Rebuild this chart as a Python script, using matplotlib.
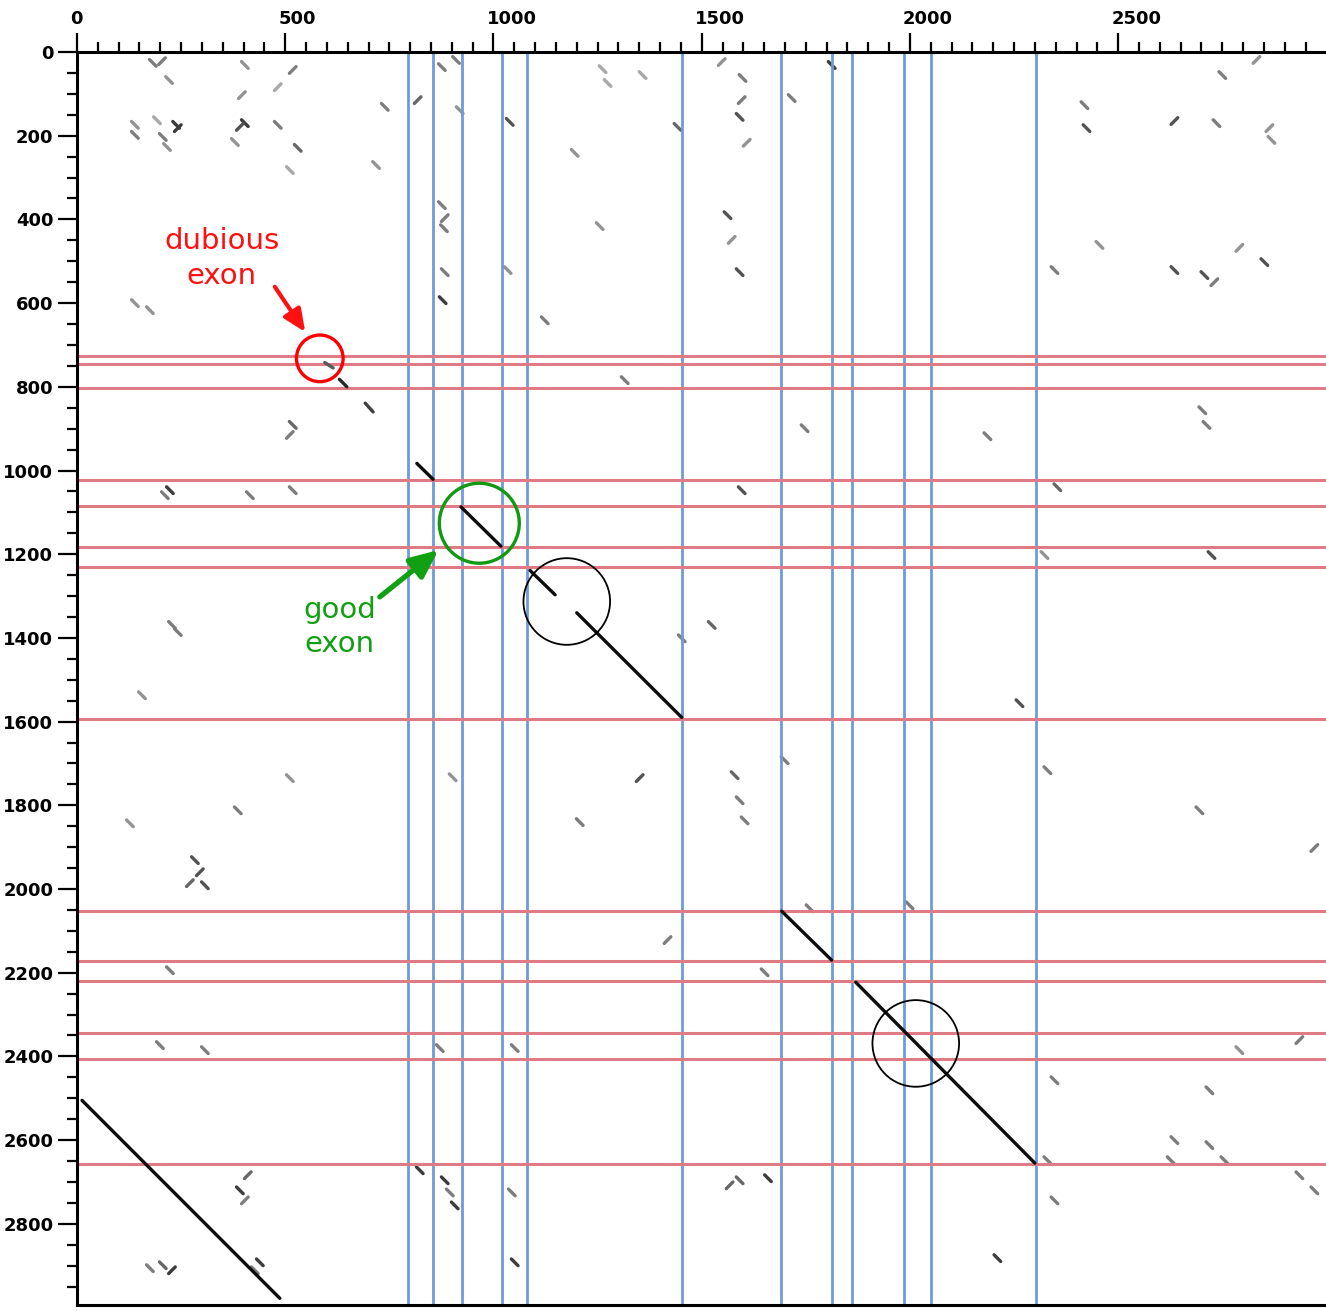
import matplotlib
matplotlib.use("Agg")
import matplotlib.pyplot as plt
import numpy as np
from matplotlib.collections import LineCollection
from matplotlib.patches import Ellipse
from matplotlib.transforms import ScaledTranslation

# ---------------- data ----------------
x_max = 2999
y_max = 2994
x_ticks = [0, 500, 1000, 1500, 2000, 2500]
y_ticks = [0, 200, 400, 600, 800, 1000, 1200, 1400, 1600, 1800, 2000, 2200, 2400, 2600, 2800]

# exon boundaries (blue vertical / red horizontal)
exon_x = [794, 855, 924, 1020, 1080, 1452, 1690, 1813, 1861, 1986, 2050, 2302]
exon_y = [726, 746, 804, 1022, 1086, 1182, 1230, 1594, 2053, 2172, 2220, 2345, 2407, 2658]

# main diagonal alignment segments: x0, y0, x1, y1
diag_x0 = [12, 595, 630, 692, 816, 922, 1088, 1200, 1692, 1870]
diag_y0 = [2505, 742, 782, 839, 983, 1087, 1239, 1340, 2053, 2223]
diag_x1 = [487, 615, 648, 711, 855, 1018, 1148, 1452, 1812, 2300]
diag_y1 = [2978, 755, 800, 860, 1021, 1181, 1297, 1590, 2170, 2655]
diag_gray = [0.05, 0.35, 0.15, 0.25, 0.05, 0.05, 0.05, 0.05, 0.05, 0.05]

# background noise dashes: centre x, centre y, darkness (0 light .. 1 dark), direction (+1 diagonal, -1 anti)
noise_x = [182, 204, 221, 139, 139, 192, 206, 238, 242, 216, 403, 396, 482, 518, 403, 391, 379, 482, 530,
           739, 818, 876, 910, 919, 1039, 1262, 1274, 1358, 1442, 1548, 1598, 1596, 1591, 1716, 1812, 1608,
           1195, 2424, 2419, 2832, 2750, 2736, 2635, 2863, 2868, 511, 718, 876, 883, 881, 878, 883, 1255,
           1562, 1591, 1572, 2455, 2635, 2707, 2731, 2851, 2347, 139, 175, 1123, 1034, 2791, 518, 511, 1315,
           1747, 2186, 2702, 2712, 223, 211, 415, 518, 2354, 1596, 1524, 1452, 228, 242, 156, 2263, 1351, 902,
           1579, 1591, 1603, 1699, 1207, 2330, 2695, 2971, 283, 295, 271, 307, 127, 386, 511, 1759, 1999,
           1418, 223, 1651, 199, 871, 1051, 2791, 907, 2210, 2347, 391, 403, 410, 823, 883, 895, 1044, 1051,
           1591, 1659, 1567, 206, 228, 175, 2719, 2755, 2935, 2971, 439, 427, 2719, 2330, 2347, 2635, 2935,
           2626, 307, 2724, 2323]
noise_y = [26, 22, 67, 174, 198, 163, 203, 174, 182, 227, 31, 103, 84, 43, 170, 179, 215, 174, 229,
           131, 115, 36, 19, 139, 167, 41, 74, 55, 179, 24, 62, 115, 155, 110, 31, 217,
           241, 182, 127, 19, 55, 170, 165, 182, 210, 282, 270, 366, 397, 421, 593, 526, 416,
           390, 526, 449, 461, 521, 533, 550, 502, 521, 600, 617, 641, 521, 468, 891, 915, 784,
           899, 918, 856, 891, 1047, 1059, 1059, 1047, 1040, 1047, 1369, 1401, 1369, 1386, 1537, 1556, 1735, 1733,
           1728, 1788, 1836, 1692, 1840, 1716, 1812, 1902, 1931, 1960, 1986, 1991, 1843, 1812, 1735, 2046, 2039,
           2122, 2194, 2199, 2373, 2380, 2380, 2385, 2756, 2882, 2744, 2720, 2744, 2684, 2672, 2696, 2725, 2725, 2892,
           2696, 2691, 2708, 2899, 2911, 2906, 2612, 2648, 2684, 2720, 2892, 2911, 2481, 2648, 2457, 2600, 2361,
           2648, 2385, 1202, 1202]
noise_dark = [0.6, 0.6, 0.5, 0.5, 0.6, 0.4, 0.6, 0.9, 0.9, 0.5, 0.5, 0.5, 0.4, 0.6, 0.9, 0.8, 0.5, 0.6, 0.7,
              0.6, 0.7, 0.6, 0.6, 0.5, 0.8, 0.4, 0.4, 0.4, 0.7, 0.5, 0.6, 0.6, 0.8, 0.6, 0.9, 0.5,
              0.5, 0.8, 0.6, 0.5, 0.6, 0.6, 0.8, 0.5, 0.5, 0.4, 0.5, 0.6, 0.6, 0.6, 0.9, 0.6, 0.5,
              0.8, 0.8, 0.5, 0.5, 0.8, 0.8, 0.6, 0.8, 0.6, 0.5, 0.5, 0.6, 0.5, 0.5, 0.7, 0.6, 0.6,
              0.6, 0.6, 0.6, 0.6, 0.9, 0.6, 0.6, 0.6, 0.7, 0.8, 0.7, 0.6, 0.6, 0.6, 0.5, 0.8, 0.8, 0.5,
              0.7, 0.6, 0.6, 0.6, 0.6, 0.6, 0.6, 0.6, 0.8, 0.8, 0.7, 0.8, 0.5, 0.6, 0.5, 0.6, 0.6,
              0.6, 0.6, 0.6, 0.6, 0.6, 0.6, 0.5, 0.9, 0.9, 0.6, 0.9, 0.6, 0.7, 0.9, 0.9, 0.6, 0.6, 0.9,
              0.7, 0.9, 0.7, 0.7, 0.9, 0.6, 0.6, 0.6, 0.6, 0.6, 0.9, 0.6, 0.6, 0.6, 0.6, 0.6, 0.6,
              0.6, 0.6, 0.8, 0.5]
noise_dir = [1, -1, 1, 1, 1, 1, 1, 1, -1, 1, 1, -1, -1, -1, 1, -1, 1, 1, 1,
             1, -1, 1, 1, 1, 1, 1, 1, 1, 1, -1, 1, -1, 1, 1, 1, -1,
             1, 1, 1, -1, 1, 1, -1, -1, 1, 1, 1, 1, -1, 1, 1, 1, 1,
             1, 1, -1, 1, 1, 1, -1, 1, 1, 1, 1, 1, 1, -1, 1, -1, 1,
             1, 1, 1, 1, 1, 1, 1, 1, 1, 1, 1, 1, 1, 1, 1, 1, -1, 1,
             1, 1, 1, 1, 1, 1, 1, -1, 1, -1, -1, 1, 1, 1, 1, 1, 1,
             -1, 1, 1, 1, 1, 1, 1, 1, 1, 1, 1, -1, -1, 1, 1, 1, 1, 1,
             1, 1, -1, 1, -1, 1, 1, 1, 1, 1, 1, 1, 1, 1, 1, 1, -1,
             1, 1, 1, 1]
noise_len = 16

# circles: centre x, centre y, radius (data units), colour
circ_x = [583, 966, 1176, 2014]
circ_y = [732, 1126, 1313, 2369]
circ_r = [56, 96, 104, 104]
circ_col = ["#ff0000", "#119911", "black", "black"]

# annotations
labels = ["dubious\nexon", "good\nexon"]
label_x = [348, 631]
label_y = [494, 1374]
label_col = ["#ff1010", "#11a011"]
arrow_tail_x = [475, 727]
arrow_tail_y = [561, 1302]
arrow_tip_x = [548, 868]
arrow_tip_y = [669, 1190]

# ---------------- figure ----------------
W, H = 1326, 1311
fig = plt.figure(figsize=(W / 100, H / 100), dpi=100)
ax = fig.add_axes([77 / W, 6 / H, (W - 77) / W, (1305 - 52) / H])
ax.set_xlim(0, x_max)
ax.set_ylim(y_max, 0)

# noise
segs = []
cols = []
for cx, cy, d, s in zip(noise_x, noise_y, noise_dark, noise_dir):
    h = noise_len / 2
    segs.append([(cx - h, cy - s * h), (cx + h, cy + s * h)])
    g = 1 - 0.85 * d
    cols.append((g, g, g))
ax.add_collection(LineCollection(segs, colors=cols, linewidths=2.4, zorder=1, capstyle="round"))

# exon boundary lines
for xv in exon_x:
    ax.axvline(xv, color="#6f9bd8", lw=2.0, zorder=2)
for yv in exon_y:
    ax.axhline(yv, color="#e07a85", lw=2.2, zorder=2)

# diagonals
for x0, y0, x1, y1, g in zip(diag_x0, diag_y0, diag_x1, diag_y1, diag_gray):
    ax.plot([x0, x1], [y0, y1], color=(g, g, g), lw=2.4, zorder=3, solid_capstyle="round")

# circles
sx = 0.4165
sy = 0.4185
for cx, cy, r, c in zip(circ_x, circ_y, circ_r, circ_col):
    rp = r * sx
    e = Ellipse((cx, cy), 2 * rp / sx, 2 * rp / sy, fill=False, edgecolor=c,
                lw=2.4 if c != "black" else 1.3, zorder=4)
    ax.add_patch(e)

# annotations with arrows
for i, (t, lx, ly, c, tx, ty, hx, hy) in enumerate(zip(labels, label_x, label_y, label_col,
                                                        arrow_tail_x, arrow_tail_y, arrow_tip_x, arrow_tip_y)):
    ax.text(lx, ly, t, color=c, fontsize=21, ha="center", va="center",
            linespacing=1.3, family="DejaVu Sans", zorder=5)
    ms = 15 if i == 0 else 19
    lw = 3.0 if i == 0 else 3.8
    ax.annotate("", xy=(hx, hy), xytext=(tx, ty),
                arrowprops=dict(arrowstyle="-|>,head_length=0.9,head_width=0.4",
                                lw=lw, color=c, mutation_scale=ms, shrinkA=0, shrinkB=0),
                zorder=5)

# axes styling
ax.xaxis.set_ticks_position("top")
ax.xaxis.set_label_position("top")
ax.set_xticks(x_ticks)
ax.set_xticks(np.arange(50, x_max, 50), minor=True)
ax.set_yticks(y_ticks)
ax.set_yticks(np.arange(50, y_max, 50), minor=True)
ax.tick_params(axis="both", which="major", length=13.5, width=1.6, color="black",
               labelsize=13, pad=3.5)
ax.tick_params(axis="both", which="minor", length=7, width=1.6, color="black")
ax.tick_params(axis="x", which="both", direction="out", top=True, bottom=False)
ax.tick_params(axis="y", which="both", direction="out", left=True, right=False)
for lab in ax.get_xticklabels() + ax.get_yticklabels():
    lab.set_fontweight("bold")
for lab in ax.get_xticklabels():
    lab.set_horizontalalignment("left")
    lab.set_transform(lab.get_transform() + ScaledTranslation(-7 / 100, 0, fig.dpi_scale_trans))

for side in ["top", "left", "bottom"]:
    ax.spines[side].set_linewidth(2.2)
    ax.spines[side].set_color("black")
ax.spines["right"].set_visible(False)

fig.savefig("out.png", dpi=100)
